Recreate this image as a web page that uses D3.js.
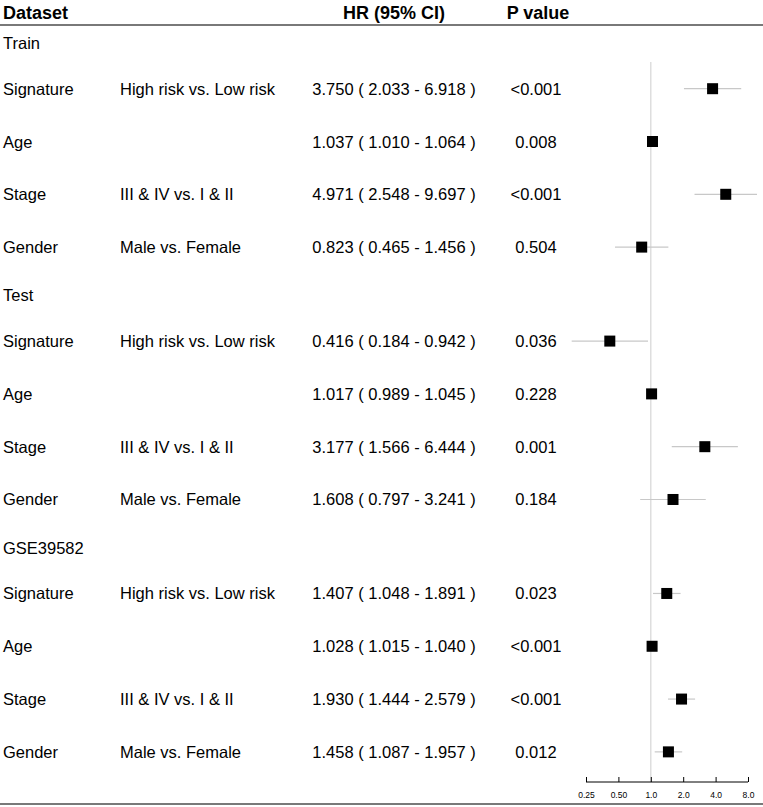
<!DOCTYPE html>
<html>
<head>
<meta charset="utf-8">
<script src="https://cdn.jsdelivr.net/npm/d3@7"></script>
<style>
  html, body { margin: 0; padding: 0; background: #fff; }
  svg { display: block; }
  text { font-family: "Liberation Sans", Arial, Helvetica, sans-serif; fill: #000; }
</style>
</head>
<body>
<svg id="chart" width="763" height="807"></svg>
<script>
const groups = ["Train", "Test", "GSE39582"];
const variables = ["Signature", "Age", "Stage", "Gender"];
const comparisons = ["High risk vs. Low risk", "", "III & IV vs. I & II", "Male vs. Female"];
const hr =    [3.750, 1.037, 4.971, 0.823, 0.416, 1.017, 3.177, 1.608, 1.407, 1.028, 1.930, 1.458];
const lower = [2.033, 1.010, 2.548, 0.465, 0.184, 0.989, 1.566, 0.797, 1.048, 1.015, 1.444, 1.087];
const upper = [6.918, 1.064, 9.697, 1.456, 0.942, 1.045, 6.444, 3.241, 1.891, 1.040, 2.579, 1.957];
const pvalues = ["<0.001", "0.008", "<0.001", "0.504", "0.036", "0.228", "0.001", "0.184", "0.023", "<0.001", "<0.001", "0.012"];
const tickValues = [0.25, 0.5, 1, 2, 4, 8];
const tickLabels = ["0.25", "0.50", "1.0", "2.0", "4.0", "8.0"];
const headers = ["Dataset", "HR (95% CI)", "P value"];

const W = 763, H = 807;
const svg = d3.select("#chart");

// Build rows
const rows = [];
groups.forEach((g, gi) => {
  rows.push({type: "group", label: g, pos: gi * 4.78 - 0.87});
  variables.forEach((v, vi) => {
    const i = gi * variables.length + vi;
    rows.push({
      type: "data", label: v, comp: comparisons[vi],
      hr: hr[i], lo: lower[i], hi: upper[i], p: pvalues[i],
      pos: gi * 4.78 + vi
    });
  });
});

const y = d3.scaleLinear().domain([0, 1]).range([88.7, 141.5]);
const x = d3.scaleLog().base(2).domain([0.25, 8]).range([586, 748]);

const colLabel = 3, colComp = 120, colHR = 394, colP = 536;
const fs = 16.5;

// Header
svg.append("text").attr("x", colLabel).attr("y", 12.5).attr("dominant-baseline", "central")
  .attr("font-size", 18).attr("font-weight", "bold").text(headers[0]);
svg.append("text").attr("x", colHR).attr("y", 12.5).attr("dominant-baseline", "central")
  .attr("text-anchor", "middle").attr("font-size", 18).attr("font-weight", "bold").text(headers[1]);
svg.append("text").attr("x", colP + 2).attr("y", 12.5).attr("dominant-baseline", "central")
  .attr("text-anchor", "middle").attr("font-size", 18).attr("font-weight", "bold").text(headers[2]);

// top & bottom rules
svg.append("line").attr("x1", 0).attr("x2", W).attr("y1", 25).attr("y2", 25)
  .attr("stroke", "#4d4d4d").attr("stroke-width", 1.5);
svg.append("line").attr("x1", 0).attr("x2", W).attr("y1", 804).attr("y2", 804)
  .attr("stroke", "#4d4d4d").attr("stroke-width", 1.5);

// reference line at HR = 1
const axisY = 782;
svg.append("line").attr("x1", x(1)).attr("x2", x(1)).attr("y1", 62).attr("y2", axisY)
  .attr("stroke", "#d9d9d9").attr("stroke-width", 1.3);

// text rows
const rg = svg.append("g");
rows.forEach(r => {
  const yy = y(r.pos);
  rg.append("text").attr("x", colLabel).attr("y", yy).attr("dominant-baseline", "central")
    .attr("font-size", fs).text(r.label);
  if (r.type === "data") {
    if (r.comp) rg.append("text").attr("x", colComp).attr("y", yy).attr("dominant-baseline", "central")
      .attr("font-size", fs).text(r.comp);
    rg.append("text").attr("x", colHR).attr("y", yy).attr("dominant-baseline", "central")
      .attr("text-anchor", "middle").attr("font-size", fs)
      .text(`${r.hr.toFixed(3)} ( ${r.lo.toFixed(3)} - ${r.hi.toFixed(3)} )`);
    rg.append("text").attr("x", colP).attr("y", yy).attr("dominant-baseline", "central")
      .attr("text-anchor", "middle").attr("font-size", fs).text(r.p);
  }
});

// CIs and boxes
const dataRows = rows.filter(r => r.type === "data");
const box = 11;
svg.append("g").selectAll("line").data(dataRows).join("line")
  .attr("x1", d => x(d.lo)).attr("x2", d => x(d.hi))
  .attr("y1", d => y(d.pos)).attr("y2", d => y(d.pos))
  .attr("stroke", "#c8c8c8").attr("stroke-width", 1.2);
svg.append("g").selectAll("rect").data(dataRows).join("rect")
  .attr("x", d => x(d.hr) - box / 2).attr("y", d => y(d.pos) - box / 2)
  .attr("width", box).attr("height", box).attr("fill", "#000");

// axis
const axis = d3.axisTop(x).tickValues(tickValues).tickFormat((d, i) => tickLabels[i]).tickSize(5).tickSizeOuter(0);
const ag = svg.append("g").attr("transform", `translate(0,${axisY})`).call(axis);
ag.select(".domain").attr("stroke", "#000").attr("stroke-width", 1).attr("d", `M${x(0.25)},0H${x(8)}`);
ag.selectAll(".tick line").attr("stroke", "#000");
ag.selectAll(".tick text").attr("y", 13).attr("dy", "0").attr("dominant-baseline", "central")
  .attr("font-size", 8.5).attr("font-family", "Liberation Sans, Arial, sans-serif").attr("fill", "#000");
</script>
</body>
</html>
